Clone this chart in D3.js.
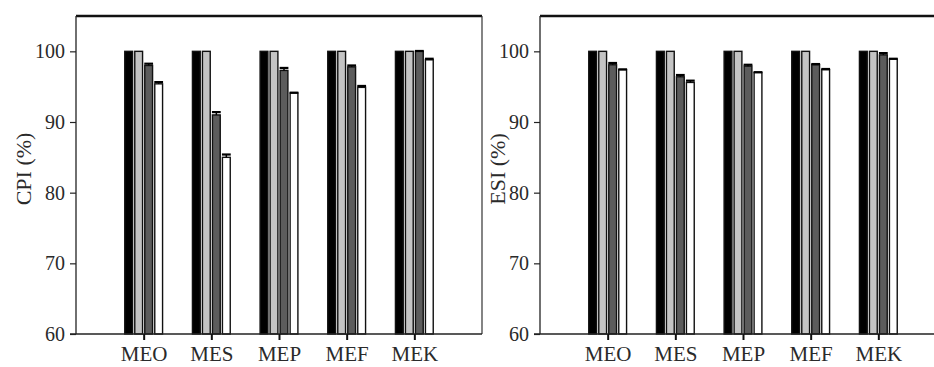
<!DOCTYPE html>
<html>
<head>
<meta charset="utf-8">
<script src="https://cdn.jsdelivr.net/npm/d3@7/dist/d3.min.js"></script>
<style>
  html, body { margin: 0; padding: 0; background: #fff; }
  svg { display: block; }
  text { font-family: "Liberation Serif", "Times New Roman", serif; fill: #2a2a2a; }
</style>
</head>
<body>
<svg id="chart" width="934" height="367"></svg>
<script>
const categories = ["MEO", "MES", "MEP", "MEF", "MEK"];
const seriesNames = ["S1", "S2", "S3", "S4"];
const seriesColors = ["#000000", "#c4c4c4", "#5c5c5c", "#ffffff"];
const yTicks = [60, 70, 80, 90, 100];

// CPI (%) values per series (rows = series, cols = categories)
const cpiS1 = [100, 100, 100, 100, 100];
const cpiS2 = [100, 100, 100, 100, 100];
const cpiS3 = [98.0, 91.0, 97.3, 97.8, 100];
const cpiS4 = [95.4, 85.0, 94.1, 94.9, 98.8];
const cpiErr3 = [0.25, 0.4, 0.35, 0.2, 0.05];
const cpiErr4 = [0.25, 0.4, 0.05, 0.2, 0.15];

// ESI (%) values
const esiS1 = [100, 100, 100, 100, 100];
const esiS2 = [100, 100, 100, 100, 100];
const esiS3 = [98.1, 96.4, 97.9, 98.1, 99.5];
const esiS4 = [97.4, 95.6, 97.0, 97.4, 98.9];
const esiErr3 = [0.25, 0.25, 0.2, 0.1, 0.25];
const esiErr4 = [0.05, 0.25, 0.05, 0.1, 0.05];

const svg = d3.select("#chart");

function panel(opts) {
  const { left, right, top, bottom, label, labelX, series, errs } = opts;
  const g = svg.append("g");
  const x = d3.scalePoint().domain(categories).range([left, right]).padding(1);
  const y = d3.scaleLinear().domain([60, 105]).range([bottom, top]);
  const barW = 7.8;
  const step = 10;
  const groupW = step * 3 + barW;

  // bars
  series.forEach((vals, si) => {
    g.selectAll(null)
      .data(categories.map((c, i) => ({ c, v: vals[i], i })))
      .enter().append("rect")
      .attr("x", d => x(d.c) - groupW / 2 + si * step)
      .attr("y", d => y(d.v))
      .attr("width", barW)
      .attr("height", d => y(60) - y(d.v))
      .attr("fill", seriesColors[si])
      .attr("stroke", "#111")
      .attr("stroke-width", 1.4);
  });

  // error bars for series 3 and 4
  errs.forEach((errVals, k) => {
    const si = k + 2;
    const vals = series[si];
    categories.forEach((c, i) => {
      const cx = x(c) - groupW / 2 + si * step + barW / 2;
      const yt = y(vals[i] + errVals[i]);
      g.append("line")
        .attr("x1", cx).attr("x2", cx)
        .attr("y1", y(vals[i])).attr("y2", yt)
        .attr("stroke", "#000").attr("stroke-width", 1.5);
      g.append("line")
        .attr("x1", cx - barW / 2 - 0.5).attr("x2", cx + barW / 2 + 0.5)
        .attr("y1", yt).attr("y2", yt)
        .attr("stroke", "#000").attr("stroke-width", 2.2);
    });
  });

  // frame: top (thick) and right
  g.append("line")
    .attr("x1", left).attr("x2", right).attr("y1", top).attr("y2", top)
    .attr("stroke", "#111").attr("stroke-width", 2.4);
  g.append("line")
    .attr("x1", right).attr("x2", right).attr("y1", top).attr("y2", bottom)
    .attr("stroke", "#333").attr("stroke-width", 1.2);

  // y axis
  const yAxis = g.append("g")
    .attr("transform", `translate(${left},0)`)
    .call(d3.axisLeft(y).tickValues(yTicks).tickSize(6).tickPadding(5).tickFormat(d3.format("d")));
  yAxis.select(".domain").attr("stroke", "#222").attr("stroke-width", 1.3)
    .attr("d", `M0,${top}V${bottom}`);
  yAxis.selectAll(".tick line").attr("stroke", "#222").attr("stroke-width", 1.2);
  yAxis.selectAll(".tick text").style("font-size", "20px").attr("fill", "#2a2a2a");

  // x axis
  const xAxis = g.append("g")
    .attr("transform", `translate(0,${bottom})`)
    .call(d3.axisBottom(x).tickSize(6).tickPadding(6));
  xAxis.select(".domain").attr("stroke", "#222").attr("stroke-width", 1.3)
    .attr("d", `M${left - 6},0H${right}`);
  xAxis.selectAll(".tick line").attr("stroke", "#111").attr("stroke-width", 2);
  xAxis.selectAll(".tick text").style("font-size", "21px").attr("fill", "#2a2a2a");

  // y label
  g.append("text")
    .attr("transform", `translate(${labelX},${(top + bottom) / 2 - 6}) rotate(-90)`)
    .attr("text-anchor", "middle")
    .attr("dominant-baseline", "central")
    .style("font-size", "22px")
    .text(label);
}

panel({
  left: 76, right: 482, top: 16, bottom: 334,
  label: "CPI (%)", labelX: 23,
  series: [cpiS1, cpiS2, cpiS3, cpiS4],
  errs: [cpiErr3, cpiErr4]
});

panel({
  left: 540, right: 946, top: 16, bottom: 334,
  label: "ESI (%)", labelX: 497,
  series: [esiS1, esiS2, esiS3, esiS4],
  errs: [esiErr3, esiErr4]
});
</script>
</body>
</html>
